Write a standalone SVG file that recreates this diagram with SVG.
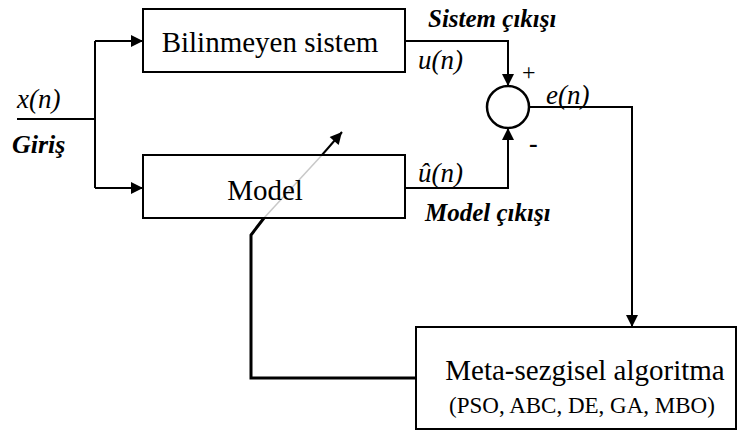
<svg xmlns="http://www.w3.org/2000/svg" width="741" height="432" viewBox="0 0 741 432" font-family="Liberation Serif, DejaVu Serif, serif">
  <defs>
    <marker id="ah" viewBox="0 0 10 10" refX="10" refY="5" markerWidth="14" markerHeight="12" markerUnits="userSpaceOnUse" orient="auto">
      <path d="M0,0 L10,5 L0,10 Z" fill="#000"/>
    </marker>
  </defs>

  <rect width="741" height="432" fill="#fff"/>

  <!-- connectors -->
  <g id="connectors" fill="none" stroke="#000" stroke-width="2">
    <!-- input split -->
    <path d="M17,119 H95"/>
    <path d="M95,41 V188"/>
    <path d="M95,41 H143" marker-end="url(#ah)"/>
    <path d="M95,188 H143" marker-end="url(#ah)"/>
    <!-- outputs to summing junction -->
    <path d="M405,41 H508 V86" marker-end="url(#ah)"/>
    <path d="M405,188 H508 V128" marker-end="url(#ah)"/>
    <!-- error to algorithm -->
    <path d="M529,107 H632 V327" marker-end="url(#ah)"/>
    <!-- adaptation path back to the model -->
    <path d="M416,378 H251 V235 L264,218" stroke-width="3"/>
    <line x1="264" y1="218" x2="322" y2="155" stroke="#c8c8c8" stroke-width="1.5"/>
    <path d="M322,155 L342,132" marker-end="url(#ah)"/>
  </g>

  <g id="input">
    <text x="17" y="108" font-family="Liberation Serif, DejaVu Serif, serif" font-size="27" font-style="italic">x(n)</text>
    <text x="12" y="153" font-family="Liberation Serif, DejaVu Serif, serif" font-size="26" font-style="italic" font-weight="bold">Giriş</text>
  </g>

  <g id="system">
    <rect x="143" y="9" width="262" height="63" fill="#fff" stroke="#000" stroke-width="2"/>
    <text x="270" y="52" font-family="Liberation Serif, DejaVu Serif, serif" font-size="29" text-anchor="middle">Bilinmeyen sistem</text>
  </g>

  <g id="model">
    <rect x="143" y="155" width="262" height="63" fill="none" stroke="#000" stroke-width="2"/>
    <text x="265" y="200" font-family="Liberation Serif, DejaVu Serif, serif" font-size="29" text-anchor="middle">Model</text>
  </g>

  <g id="system-output">
    <text x="428" y="27" font-family="Liberation Serif, DejaVu Serif, serif" font-size="25" font-style="italic" font-weight="bold">Sistem çıkışı</text>
    <text x="418" y="69" font-family="Liberation Serif, DejaVu Serif, serif" font-size="27" font-style="italic">u(n)</text>
  </g>

  <g id="model-output">
    <text x="418" y="182" font-family="Liberation Serif, DejaVu Serif, serif" font-size="27" font-style="italic">û(n)</text>
    <text x="425" y="221" font-family="Liberation Serif, DejaVu Serif, serif" font-size="25" font-style="italic" font-weight="bold">Model çıkışı</text>
  </g>

  <g id="sum">
    <circle cx="508" cy="107" r="21" fill="#fff" stroke="#000" stroke-width="2.5"/>
    <text x="522" y="80" font-family="Liberation Serif, DejaVu Serif, serif" font-size="24">+</text>
    <text x="529" y="152" font-family="Liberation Serif, DejaVu Serif, serif" font-size="26" font-weight="bold">-</text>
    <text x="546" y="104" font-family="Liberation Serif, DejaVu Serif, serif" font-size="27" font-style="italic">e(n)</text>
  </g>

  <g id="algorithm">
    <rect x="416" y="327" width="320" height="102" fill="#fff" stroke="#000" stroke-width="2"/>
    <text x="585" y="380" font-family="Liberation Serif, DejaVu Serif, serif" font-size="29" text-anchor="middle">Meta-sezgisel algoritma</text>
    <text x="582" y="413" font-family="Liberation Serif, DejaVu Serif, serif" font-size="23" text-anchor="middle">(PSO, ABC, DE, GA, MBO)</text>
  </g>
</svg>
